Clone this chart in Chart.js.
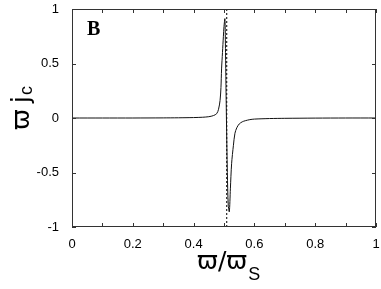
<!DOCTYPE html>
<html>
<head>
<meta charset="utf-8">
<script src="https://cdn.jsdelivr.net/npm/chart.js@4/dist/chart.umd.min.js"></script>
<style>
  html, body { margin: 0; padding: 0; background: #fff; }
  #wrap { width: 381px; height: 289px; }
</style>
</head>
<body>
<div id="wrap"><canvas id="chart"></canvas></div>
<script>
// values
const freq = [0, 0.1, 0.2, 0.3, 0.35, 0.4, 0.43, 0.45, 0.465, 0.476, 0.482, 0.487, 0.49, 0.492, 0.495, 0.498, 0.5, 0.503,
  0.505, 0.508, 0.511, 0.514, 0.5175, 0.521, 0.525, 0.531, 0.536, 0.542, 0.55, 0.56, 0.57, 0.585, 0.6, 0.65, 0.7, 0.8, 0.9, 1];
const current = [0, 0, 0, 0.001, 0.002, 0.004, 0.007, 0.012, 0.022, 0.04, 0.08, 0.16, 0.28, 0.45, 0.6, 0.75, 0.84, 0.91,
  0.6, 0, -0.5, -0.8, -0.86, -0.65, -0.42, -0.25, -0.14, -0.09, -0.055, -0.035, -0.025, -0.015, -0.01, -0.005, -0.003, -0.001, 0, 0];
const resonance = [0.509];
const xTicks = [0, 0.2, 0.4, 0.6, 0.8, 1];
const yTicks = [-1, -0.5, 0, 0.5, 1];

const sansFont = "'Liberation Sans', Arial, sans-serif";
const symFont = "'DejaVu Sans', 'Liberation Sans', sans-serif";

function noOverflow(s) {
  s.paddingTop = 0;
  s.paddingBottom = 0;
  s.paddingLeft = 0;
  s.paddingRight = 0;
}

const frame = {
  id: 'frame',
  afterDraw(chart) {
    const { ctx, chartArea: a, scales: { x, y } } = chart;
    ctx.save();
    ctx.strokeStyle = '#333';
    ctx.lineWidth = 1;
    ctx.strokeRect(a.left + 0.5, a.top + 0.5, a.right - a.left - 1, a.bottom - a.top - 1);
    ctx.beginPath();
    for (let v = 0; v <= 1.0001; v += 0.1) {
      const px = Math.round(x.getPixelForValue(v)) + 0.5;
      ctx.moveTo(px, a.bottom); ctx.lineTo(px, a.bottom - 4);
      ctx.moveTo(px, a.top); ctx.lineTo(px, a.top + 4);
    }
    yTicks.forEach((v) => {
      const py = Math.round(y.getPixelForValue(v)) + 0.5;
      ctx.moveTo(a.left, py); ctx.lineTo(a.left + 4, py);
      ctx.moveTo(a.right, py); ctx.lineTo(a.right - 4, py);
    });
    ctx.stroke();

    // panel letter
    ctx.fillStyle = '#000';
    ctx.font = "bold 20px 'Liberation Serif', 'Times New Roman', serif";
    ctx.textBaseline = 'alphabetic';
    ctx.textAlign = 'left';
    ctx.fillText('B', 87, 35);

    // x title: ϖ/ϖ with subscript S
    ctx.font = '25px ' + symFont;
    const main = 'ϖ/ϖ';
    const wMain = ctx.measureText(main).width;
    const sx = 197;
    ctx.fillText(main, sx, 269);
    ctx.font = '18px ' + sansFont;
    ctx.fillText('S', sx + wMain + 1, 280);

    // y title: ϖ j with subscript c, rotated
    ctx.translate(29, 130);
    ctx.rotate(-Math.PI / 2);
    ctx.font = '25px ' + symFont;
    ctx.fillText('ϖ', 0, 0);
    const wo = ctx.measureText('ϖ').width;
    ctx.fillText('j', wo + 6, 0);
    const wj = ctx.measureText('j').width;
    ctx.font = '18px ' + sansFont;
    ctx.fillText('c', wo + wj + 7, 3);
    ctx.restore();
  }
};

new Chart(document.getElementById('chart'), {
  type: 'scatter',
  data: {
    datasets: [
      {
        data: freq.map((f, i) => ({ x: f, y: current[i] })),
        showLine: true,
        borderColor: '#111',
        borderWidth: 1,
        pointRadius: 0,
        tension: 0.3
      },
      {
        data: [{ x: resonance[0], y: -1 }, { x: resonance[0], y: 1 }],
        showLine: true,
        borderColor: '#000',
        borderWidth: 1,
        borderDash: [2, 2],
        pointRadius: 0
      }
    ]
  },
  options: {
    responsive: true,
    maintainAspectRatio: false,
    animation: false,
    layout: { padding: { left: 0, right: 5, top: 9, bottom: 0 } },
    plugins: { legend: { display: false }, tooltip: { enabled: false } },
    scales: {
      x: {
        type: 'linear',
        min: 0,
        max: 1,
        afterBuildTicks: (s) => { s.ticks = xTicks.map((v) => ({ value: v })); },
        afterFit: (s) => { s.height = 62; noOverflow(s); },
        grid: { display: false, drawTicks: false },
        border: { display: false },
        ticks: {
          padding: 10,
          color: '#000',
          font: { family: sansFont, size: 13 },
          maxRotation: 0,
          callback: (v) => String(v)
        }
      },
      y: {
        type: 'linear',
        min: -1,
        max: 1,
        afterBuildTicks: (s) => { s.ticks = yTicks.map((v) => ({ value: v })); },
        afterFit: (s) => { s.width = 72; noOverflow(s); },
        grid: { display: false, drawTicks: false },
        border: { display: false },
        ticks: {
          padding: 13,
          color: '#000',
          font: { family: sansFont, size: 13 },
          callback: (v) => String(v)
        }
      }
    }
  },
  plugins: [frame]
});
</script>
</body>
</html>
